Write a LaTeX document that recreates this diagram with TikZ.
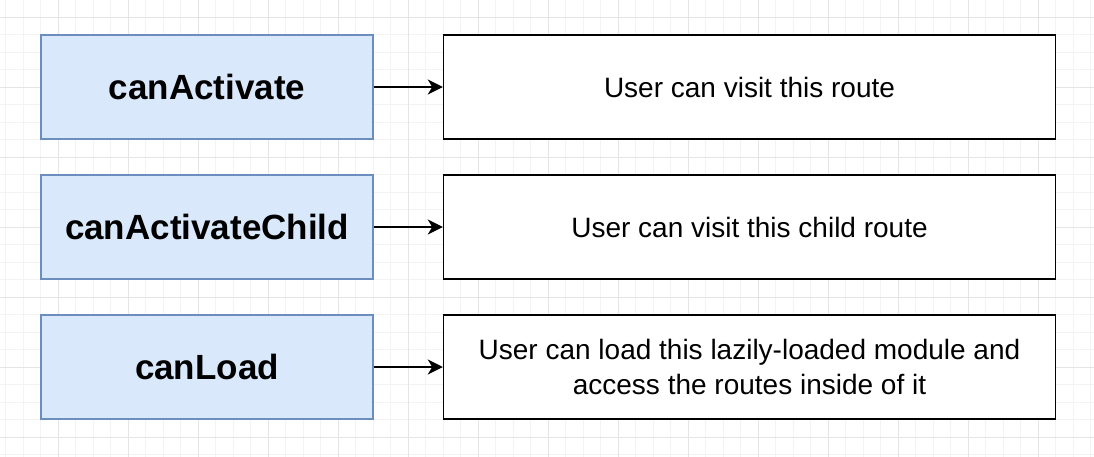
\documentclass[tikz,border=0pt]{standalone}
\usepackage{fontspec}
\setmainfont{Liberation Sans}
\usetikzlibrary{arrows.meta,positioning}
\definecolor{grdminor}{HTML}{F3F3F3}
\definecolor{grdmajor}{HTML}{E5E5E5}
\definecolor{guardfill}{HTML}{DAE8FC}
\definecolor{guardline}{HTML}{6C8EBF}

\begin{document}
\begin{tikzpicture}[
  x=1pt, y=-1pt,
  guard/.style={draw=guardline, fill=guardfill, line width=1.5pt,
                minimum width=332pt, minimum height=104pt,
                font=\fontsize{35}{40}\selectfont\bfseries},
  result/.style={draw=black, fill=white, line width=1.5pt,
                 minimum width=612pt, minimum height=104pt, align=center,
                 font=\fontsize{28}{35}\selectfont},
  link/.style={-{Stealth[length=15pt,width=15pt,inset=4.5pt]}, line width=1.5pt},
]

% ---------------- background grid ------------------------------------
\fill[white] (0,0) rectangle (1094,457);
\useasboundingbox (0,0) rectangle (1094,457);
\foreach \x in {5.8,23.3,...,1094}
  \draw[grdminor, line width=1pt] (\x,0) -- (\x,457);
\foreach \y in {-0.2,17.3,...,457}
  \draw[grdminor, line width=1pt] (0,\y) -- (1094,\y);
\foreach \x in {58.3,128.3,...,1094}
  \draw[grdmajor, line width=1pt] (\x,0) -- (\x,457);
\foreach \y in {17.3,87.3,...,457}
  \draw[grdmajor, line width=1pt] (0,\y) -- (1094,\y);

% ---------------- guards ---------------------------------------------
\node[guard] (activate) at (207,87) {canActivate};
\node[guard] (child)    at (207,227) {canActivateChild};
\node[guard] (load)     at (207,367) {canLoad};

% ---------------- what they allow ------------------------------------
\node[result] (visit)      at (749.5,87) {User can visit this route};
\node[result] (visitchild) at (749.5,227) {User can visit this child route};
\node[result] (loadmod)    at (749.5,367)
  {User can load this lazily-loaded module and\\access the routes inside of it};

\draw[link] (activate) -- (visit);
\draw[link] (child) -- (visitchild);
\draw[link] (load) -- (loadmod);

\end{tikzpicture}
\end{document}
